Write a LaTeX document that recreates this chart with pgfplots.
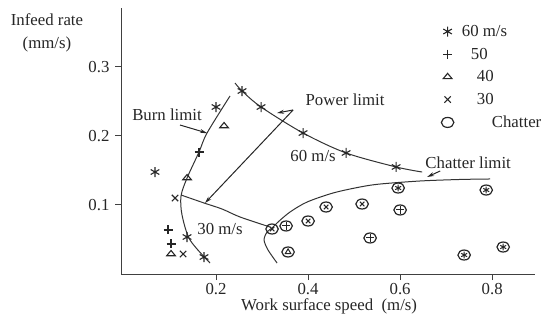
\documentclass[border=0pt]{standalone}
\usepackage{pgfplots}
\pgfplotsset{compat=1.18}
\usepackage{fontspec}
\setmainfont{Liberation Serif}
\usetikzlibrary{arrows.meta}
\newcommand{\lf}{\fontsize{16.8}{19}\selectfont}
\begin{document}
\begin{tikzpicture}
\path[use as bounding box] (0,0) rectangle (543pt,324pt);
\begin{axis}[
  at={(121pt,50pt)}, anchor=south west,
  scale only axis, width=414pt, height=266pt,
  xmin=-0.0065, xmax=0.893, ymin=0, ymax=0.3855,
  axis lines=left, axis line style={-, black!75, line width=1pt},
  tick align=outside, major tick length=6pt,
  tick style={black!75, line width=1pt},
  xtick={0.2,0.4,0.6,0.8}, ytick={0.1,0.2,0.3},
  xticklabels={0.2,0.4,0.6,0.8}, yticklabels={0.1,0.2,0.3},
  ticklabel style={font=\lf, text=black!85},
  yticklabel style={xshift=-2pt},
  clip=false,
  legend cell align=left,
  legend style={at={(axis cs:0.6826,0.3667)}, anchor=north west, draw=none, fill=none,
    font=\lf, text=black!85, row sep=6pt},
]
% ---- limit curves ----
% Burn limit
\addplot[forget plot, smooth, black!80, line width=1pt] coordinates {
 (0.2304,0.2580) (0.1804,0.2043) (0.1630,0.1768) (0.1370,0.1391) (0.1239,0.1130)
 (0.1261,0.0855) (0.1435,0.0493) (0.1870,0.0159)};
% Power limit 60 m/s
\addplot[forget plot, smooth, black!80, line width=1pt] coordinates {
 (0.2413,0.2768) (0.2565,0.2652) (0.2978,0.2420) (0.3891,0.2043) (0.4826,0.1754)
 (0.5913,0.1551) (0.6478,0.1478)};
% Power limit 30 m/s
\addplot[forget plot, smooth, black!80, line width=1pt] coordinates {
 (0.1239,0.1145) (0.1739,0.1029) (0.2130,0.0942) (0.2522,0.0826) (0.3174,0.0681)};
% Chatter limit
\addplot[forget plot, smooth, black!80, line width=1pt] coordinates {
 (0.3326,0.0159) (0.3130,0.0348) (0.3043,0.0493) (0.3109,0.0609) (0.3217,0.0667)
 (0.3348,0.0754) (0.3609,0.0899) (0.3978,0.1043) (0.4543,0.1174) (0.5130,0.1261)
 (0.5565,0.1304) (0.6435,0.1348) (0.7304,0.1370) (0.7957,0.1377)};
% ---- arrows ----
\addplot[forget plot, black!85, line width=1pt, -{Stealth[length=7pt,width=4pt]}] coordinates {(0.1217,0.2159) (0.1804,0.2043)};
\addplot[forget plot, black!85, line width=1pt, -{Stealth[length=7pt,width=4pt]}] coordinates {(0.3674,0.2377) (0.3326,0.2333)};
\addplot[forget plot, black!85, line width=1pt, -{Stealth[length=7pt,width=4pt]}] coordinates {(0.3674,0.2377) (0.1761,0.1029)};
\addplot[forget plot, black!85, line width=1pt, -{Stealth[length=7pt,width=4pt]}] coordinates {(0.6870,0.1493) (0.6587,0.1406)};
% ---- data series ----
\addplot[only marks, mark=asterisk, mark size=5pt, mark options={black!85, line width=1.1pt}] coordinates {
 (0.2565,0.2652) (0.2978,0.2420) (0.3891,0.2043) (0.4826,0.1754) (0.5913,0.1551)
 (0.2000,0.2420) (0.0674,0.1478) (0.1370,0.0536) (0.1739,0.0246)};
\addlegendentry{\hspace{6pt}60 m/s}
\addplot[only marks, mark=+, mark size=4.5pt, mark options={black!85, line width=1.1pt}] coordinates {
 (0.1630,0.1768) (0.0957,0.0638) (0.1022,0.0435)};
\addlegendentry{\hspace{15pt}50}
\addplot[only marks, mark=triangle, mark size=5pt, mark options={black!85, line width=1.1pt, yscale=0.7}] coordinates {
 (0.2174,0.2145) (0.1370,0.1391) (0.1022,0.0290)};
\addlegendentry{\hspace{21pt}40}
\addplot[only marks, mark=x, mark size=4.5pt, mark options={black!85, line width=1.1pt}] coordinates {
 (0.1109,0.1101) (0.1283,0.0290)};
\addlegendentry{\hspace{21pt}30}
\addplot[only marks, mark=o, mark size=5pt, mark options={black!85, line width=1.2pt, xscale=1.25}] coordinates {
 (0.3217,0.0652) (0.3522,0.0696) (0.3565,0.0319) (0.4000,0.0768) (0.4391,0.0971)
 (0.5174,0.1014) (0.5957,0.1246) (0.6000,0.0928) (0.5348,0.0522) (0.7870,0.1217)
 (0.7391,0.0275) (0.8239,0.0391)};
\addlegendentry{\hspace{36pt}Chatter}
% inner symbols of chatter points
\addplot[forget plot, only marks, mark=x, mark size=3.2pt, mark options={black!85, line width=1pt}] coordinates {
 (0.3217,0.0652) (0.4000,0.0768) (0.4391,0.0971) (0.5174,0.1014)};
\addplot[forget plot, only marks, mark=+, mark size=4pt, mark options={black!85, line width=1pt}] coordinates {
 (0.3522,0.0696) (0.6000,0.0928) (0.5348,0.0522)};
\addplot[forget plot, only marks, mark=asterisk, mark size=3.4pt, mark options={black!85, line width=1pt}] coordinates {
 (0.5957,0.1246) (0.7870,0.1217) (0.7391,0.0275) (0.8239,0.0391)};
\addplot[forget plot, only marks, mark=triangle, mark size=3.2pt, mark options={black!85, line width=1pt}] coordinates {
 (0.3565,0.0319)};
% ---- text ----
\node[font=\lf, text=black!85] at (axis cs:0.0935,0.2304) {Burn limit};
\node[font=\lf, text=black!85, anchor=west] at (axis cs:0.3870,0.2522) {Power limit};
\node[font=\lf, text=black!85] at (axis cs:0.4109,0.1710) {60 m/s};
\node[font=\lf, text=black!85] at (axis cs:0.2087,0.0652) {30 m/s};
\node[font=\lf, text=black!85] at (axis cs:0.7478,0.1609) {Chatter limit};
\node[font=\lf, text=black!85] at (axis cs:0.4457,-0.0464) {Work surface speed\ \ (m/s)};
\node[font=\lf, text=black!85] at (axis cs:-0.1674,0.3680) {Infeed rate};
\node[font=\lf, text=black!85] at (axis cs:-0.1674,0.3320) {(mm/s)};
\end{axis}
\end{tikzpicture}
\end{document}
